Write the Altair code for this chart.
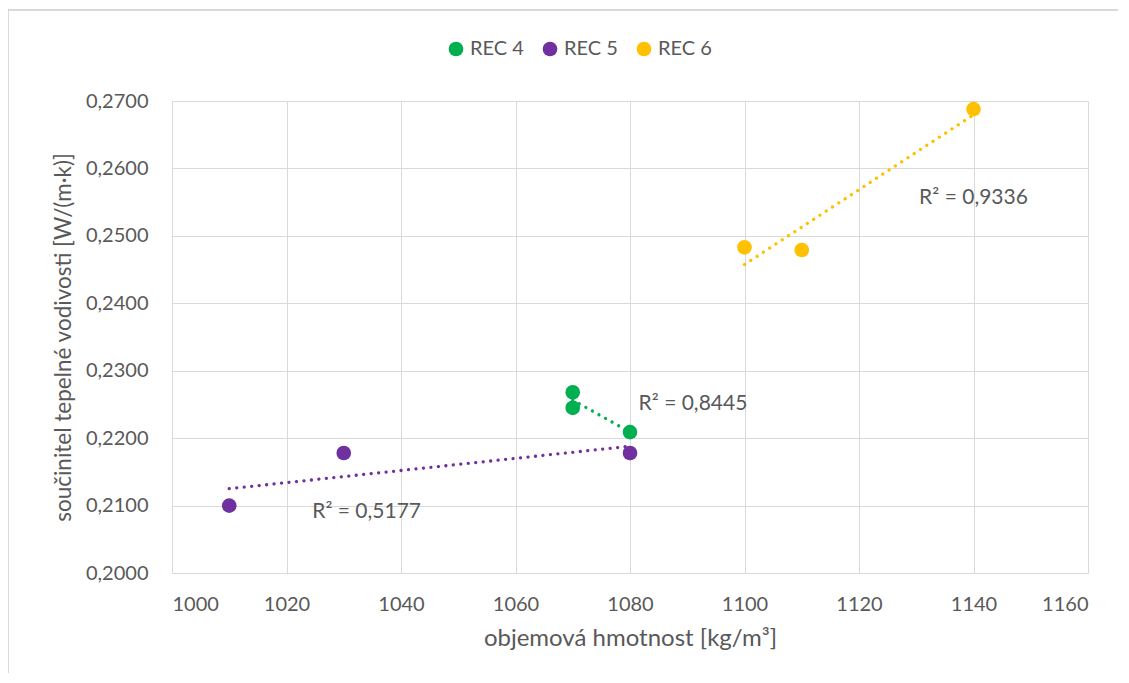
import altair as alt
import pandas as pd

series_names = ["REC 4", "REC 5", "REC 6"]
series_colors = ["#00B050", "#7030A0", "#FFC000"]

rec4_x = [1070, 1070, 1080]
rec4_y = [0.2268, 0.2245, 0.2209]
rec5_x = [1010, 1030, 1080]
rec5_y = [0.2100, 0.2178, 0.2178]
rec6_x = [1100, 1110, 1140]
rec6_y = [0.2483, 0.2479, 0.2688]

r2_labels = ["R² = 0,8445", "R² = 0,5177", "R² = 0,9336"]
r2_x = [1081.5, 1024.5, 1130.5]
r2_y = [0.2251, 0.2091, 0.2556]

x_ticks = list(range(1000, 1161, 20))
y_ticks = [0.20, 0.21, 0.22, 0.23, 0.24, 0.25, 0.26, 0.27]

rows = []
for name, xs, ys in zip(series_names, [rec4_x, rec5_x, rec6_x], [rec4_y, rec5_y, rec6_y]):
    for xv, yv in zip(xs, ys):
        rows.append({"series": name, "x": xv, "y": yv})
df = pd.DataFrame(rows)
ann = pd.DataFrame({"label": r2_labels, "x": r2_x, "y": r2_y})

FONT = "Lato"
GRAY = "#595959"
GRID = "#D9D9D9"

xscale = alt.Scale(domain=[1000, 1160], nice=False, zero=False)
yscale = alt.Scale(domain=[0.20, 0.27], nice=False, zero=False)

xaxis = alt.Axis(values=x_ticks, format="d", title="objemová hmotnost [kg/m³]",
                 grid=True, gridColor=GRID, ticks=False, domain=False,
                 labelFontSize=20, labelColor=GRAY, labelPadding=21,
                 titleFontSize=24, titleColor=GRAY, titleFontWeight="normal", titlePadding=12)
yaxis = alt.Axis(values=y_ticks, title="součinitel tepelné vodivosti [W/(m·k)]",
                 labelExpr="replace(format(datum.value, '.4f'), '.', ',')",
                 grid=True, gridColor=GRID, ticks=False, domain=False,
                 labelFontSize=20, labelColor=GRAY, labelPadding=24,
                 titleFontSize=22.5, titleColor=GRAY, titleFontWeight="normal", titlePadding=10)

base = alt.Chart(df)

line_layers = []
for name, col in zip(series_names, series_colors):
    line_layers.append(
        base.transform_filter(alt.datum.series == name)
        .transform_regression("x", "y")
        .mark_line(strokeDash=[0.01, 7.5], strokeWidth=3.3, strokeCap="round", color=col)
        .encode(
            x=alt.X("x:Q", scale=xscale, axis=xaxis),
            y=alt.Y("y:Q", scale=yscale, axis=yaxis),
        )
    )

points = base.mark_point(filled=True, size=215, opacity=1, shape="circle").encode(
    x=alt.X("x:Q", scale=xscale, axis=xaxis),
    y=alt.Y("y:Q", scale=yscale, axis=yaxis),
    color=alt.Color("series:N", scale=alt.Scale(domain=series_names, range=series_colors),
                    legend=alt.Legend(title=None, orient="none", direction="horizontal",
                                      legendX=274, legendY=-62, symbolType="circle",
                                      symbolSize=215, labelFontSize=20, labelColor=GRAY,
                                      labelFont=FONT, columnPadding=16, symbolOpacity=1,
                                      labelOffset=4)),
)

texts = alt.Chart(ann).mark_text(align="left", baseline="middle", fontSize=21, color=GRAY, font=FONT).encode(
    x=alt.X("x:Q", scale=xscale),
    y=alt.Y("y:Q", scale=yscale),
    text="label:N",
)

border_left = alt.Chart(ann).mark_rule(color=GRID, strokeWidth=1.5).encode(
    x=alt.value(-164), y=alt.value(-91), y2=alt.value(590)
)
border_top = alt.Chart(ann).mark_rule(color=GRID, strokeWidth=1.5).encode(
    x=alt.value(-164), x2=alt.value(960), y=alt.value(-91)
)

chart = alt.layer(border_left, border_top, *line_layers, points, texts).properties(
    width=916, height=472,
    autosize=alt.AutoSizeParams(type="none"),
    padding={"left": 164, "top": 93, "right": 30, "bottom": 100},
).configure(font=FONT, background="white").configure_view(stroke=None)

chart.save("out.html", embed_options={"renderer": "svg", "actions": False})
